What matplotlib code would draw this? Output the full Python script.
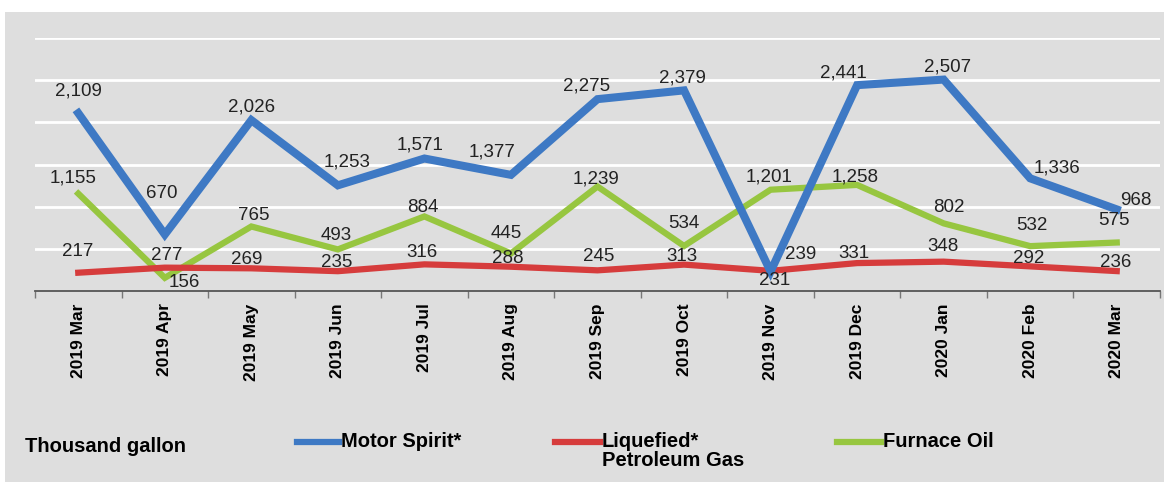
import matplotlib
matplotlib.use('Agg')
import matplotlib.pyplot as plt
from matplotlib.lines import Line2D
from matplotlib.patches import Rectangle
import numpy as np

plt.rcParams['font.family'] = ['Liberation Sans', 'DejaVu Sans']

months = ['2019 Mar', '2019 Apr', '2019 May', '2019 Jun', '2019 Jul', '2019 Aug',
          '2019 Sep', '2019 Oct', '2019 Nov', '2019 Dec', '2020 Jan', '2020 Feb',
          '2020 Mar']
motor_spirit = [2109, 670, 2026, 1253, 1571, 1377, 2275, 2379, 231, 2441, 2507, 1336, 968]
lpg = [217, 277, 269, 235, 316, 288, 245, 313, 239, 331, 348, 292, 236]
furnace_oil = [1155, 156, 765, 493, 884, 445, 1239, 534, 1201, 1258, 802, 532, 575]

# label offsets (pixels) from each point, as placed in the original
off_ms = [(0, 22), (-3, 41), (0, 13), (9, 23), (-4, 14), (-19, 23), (-11, 13),
          (-2, 12), (4, -9), (-14, 12), (4, 13), (27, 10), (19, 9)]
off_lpg = [(-1, 21), (2, 12), (-5, 9), (-1, 9), (-2, 12), (-3, 8), (1, 14),
           (-2, 8), (30, 16), (-3, 10), (-1, 15), (-2, 8), (-1, 9)]
off_fo = [(-5, 16), (20, -5), (2, 11), (-2, 14), (-2, 9), (-5, 20), (-1, 8),
          (0, 22), (-2, 13), (-2, 8), (5, 16), (2, 21), (-3, 22)]

BLUE = '#3e79c4'
RED = '#d63c3c'
GREEN = '#97c640'
BG = '#dedede'

W, H = 1164, 482
fig = plt.figure(figsize=(W / 100, H / 100), dpi=100, facecolor='white')

def fx(x):
    return x / W

def fy(y):
    return 1 - y / H

# grey chart area
fig.patches.append(Rectangle((fx(5), 0), 1, fy(12), transform=fig.transFigure,
                             facecolor=BG, edgecolor='none', zorder=-10))

ax = fig.add_axes([fx(35), fy(291), fx(1160) - fx(35), fy(38) - fy(291)])
ax.set_facecolor('none')

x = np.arange(len(months))
ax.set_xlim(-0.5, len(months) - 0.5)
ax.set_ylim(0, 3000)

for v in range(500, 3001, 500):
    ax.axhline(v, color='white', lw=2, zorder=1)

for vals, offs, col, lw in [(furnace_oil, off_fo, GREEN, 4.5),
                            (lpg, off_lpg, RED, 4.5),
                            (motor_spirit, off_ms, BLUE, 5.8)]:
    ax.plot(x, vals, color=col, lw=lw, solid_joinstyle='miter', zorder=3)
    for xi, v, (dx, dy) in zip(x, vals, offs):
        ax.annotate(f'{v:,}', (xi, v), xytext=(dx, dy), textcoords='offset pixels',
                    ha='center', va='center', fontsize=13.5, color='#222222',
                    zorder=5, annotation_clip=False)

for s in ['top', 'right', 'left']:
    ax.spines[s].set_visible(False)
ax.spines['bottom'].set_color('#555555')
ax.spines['bottom'].set_linewidth(1.3)
ax.set_yticks([])
ax.set_xticks(x)
ax.set_xticklabels(months, rotation=90, fontsize=12.5, fontweight='bold')
ax.tick_params(axis='x', length=0, pad=9)
ax.set_xticks(np.arange(-0.5, len(months), 1), minor=True)
ax.tick_params(axis='x', which='minor', length=5, color='#777777', width=1)

# legend row
fig.text(fx(25), fy(447), 'Thousand gallon', fontsize=14.5, fontweight='bold',
         va='center', ha='left')
legend_items = [('Motor Spirit*', BLUE, 297, 339),
                ('Liquefied*\nPetroleum Gas', RED, 555, 600),
                ('Furnace Oil', GREEN, 837, 881)]
for lab, col, x0, x1 in legend_items:
    fig.add_artist(Line2D([fx(x0), fx(x1)], [fy(442), fy(442)], color=col, lw=4.5,
                          transform=fig.transFigure))
    fig.text(fx(x1 + 2), fy(432), lab, fontsize=14.5, fontweight='bold',
             va='top', ha='left', linespacing=1.0)

fig.savefig('out.png', dpi=100, facecolor='white')
